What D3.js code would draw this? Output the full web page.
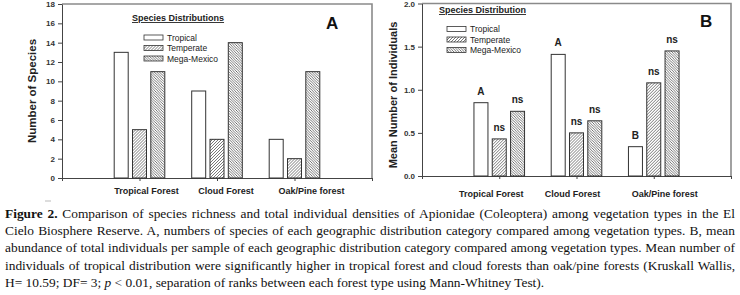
<!DOCTYPE html>
<html>
<head>
<meta charset="utf-8">
<script src="https://cdn.jsdelivr.net/npm/d3@7"></script>
<style>
body{margin:0;background:#fff;width:740px;height:295px;overflow:hidden;position:relative}
#chart svg{position:absolute;left:0;top:0}
#caption{position:absolute;left:5px;top:205px;width:730px;font-family:"Liberation Serif","Times New Roman",serif;font-size:13.4px;line-height:17.2px;color:#111}
#caption div{white-space:nowrap;text-align:justify;text-align-last:justify}
#caption div.last{text-align-last:left}
</style>
</head>
<body>
<div id="chart"></div>
<div id="caption"></div>
<script>
// data
const forests = ["Tropical Forest", "Cloud Forest", "Oak/Pine forest"]
const distributions = ["Tropical", "Temperate", "Mega-Mexico"]

const speciesTropical = [13, 9, 4]
const speciesTemperate = [5, 4, 2]
const speciesMegaMexico = [11, 14, 11]

const meanTropical = [0.85, 1.41, 0.34]
const meanTemperate = [0.43, 0.50, 1.08]
const meanMegaMexico = [0.75, 0.64, 1.45]

const sigTropical = ["A", "A", "B"]
const sigTemperate = ["ns", "ns", "ns"]
const sigMegaMexico = ["ns", "ns", "ns"]

const speciesTicks = [0, 2, 4, 6, 8, 10, 12, 14, 16, 18]
const meanTicks = [0, 0.5, 1.0, 1.5, 2.0]

const captionLines = [
  ["<b>Figure 2.</b> Comparison of species richness and total individual densities of Apionidae (Coleoptera) among vegetation types in the El"],
  ["Cielo Biosphere Reserve. A, numbers of species of each geographic distribution category compared among vegetation types. B, mean"],
  ["abundance of total individuals per sample of each geographic distribution category compared among vegetation types. Mean number of"],
  ["individuals of tropical distribution were significantly higher in tropical forest and cloud forests than oak/pine forests (Kruskall Wallis,"],
  ["H= 10.59; DF= 3; <i>p</i> &lt; 0.01, separation of ranks between each forest type using Mann-Whitney Test)."]
]

const fills = ["#fff", "url(#hatchTemp)", "url(#hatchMega)"]

function buildRows(a, b, c, sa, sb, sc){
  return forests.map((f, i) => ({
    forest: f, idx: i + 1,
    vals: [a[i], b[i], c[i]],
    sig: sa ? [sa[i], sb[i], sc[i]] : null
  }))
}

const panels = [
  {rows: buildRows(speciesTropical, speciesTemperate, speciesMegaMexico),
   left: 62, right: 372, top: 4, bottom: 178, yMax: 18, ticks: speciesTicks, fmt: d3.format("d"),
   yTitle: "Number of Species", yTitleX: 36, yTitleY: 91, yTitleSize: 11.5,
   legendTitle: "Species Distributions", legTitleX: 132, legTitleY: 21, swX: 144, swY: 35,
   letter: "A", letterX: 326, letterY: 29, labelShift: [7, 9, 17], labelY: 194},
  {rows: buildRows(meanTropical, meanTemperate, meanMegaMexico, sigTropical, sigTemperate, sigMegaMexico),
   left: 422, right: 731, top: 3.5, bottom: 176, yMax: 2, ticks: meanTicks, fmt: d3.format(".1f"),
   yTitle: "Mean Number of Individuals", yTitleX: 397, yTitleY: 95, yTitleSize: 11,
   legendTitle: "Species Distribution", legTitleX: 439, legTitleY: 13, swX: 447, swY: 26.5,
   letter: "B", letterX: 700, letterY: 27, labelShift: [-8, -4, 11], labelY: 197}
]

const svg = d3.select("#chart").append("svg").attr("width", 740).attr("height", 295)
  .attr("font-family", "Arial, 'Liberation Sans', sans-serif")

addPatterns(svg)
panels.forEach(p => drawPanel(svg, p))
addCaption()

function addPatterns(svg){
  const defs = svg.append("defs")
  defs.append("pattern").attr("id", "hatchTemp").attr("patternUnits", "userSpaceOnUse")
    .attr("width", 3).attr("height", 3)
    .append("path").attr("d", "M-1,1 l2,-2 M0,3 l3,-3 M2,4 l2,-2")
    .attr("stroke", "#555").attr("stroke-width", 0.8)
  defs.append("pattern").attr("id", "hatchMega").attr("patternUnits", "userSpaceOnUse")
    .attr("width", 2.6).attr("height", 2.6)
    .append("path").attr("d", "M-1,1.6 l2,2 M0,0 l2.6,2.6 M1.6,-1 l2,2")
    .attr("stroke", "#555").attr("stroke-width", 0.8)
}

function drawPanel(svg, p){
  const x = d3.scaleLinear().domain([0, 4]).range([p.left, p.right])
  const y = d3.scaleLinear().domain([0, p.yMax]).range([p.bottom, p.top])
  const inner = d3.scaleBand().domain(d3.range(3)).range([-25.3, 25.3]).paddingInner(0.235)

  // frame
  svg.append("path")
    .attr("d", `M${p.left},${y(p.yMax)} H${x(4)} V${y(0)}`)
    .attr("fill", "none").attr("stroke", "#8a8a8a").attr("stroke-width", 1.6)

  // axes
  const ya = svg.append("g").attr("transform", `translate(${p.left},0)`)
    .call(d3.axisLeft(y).tickValues(p.ticks).tickFormat(p.fmt).tickSize(4).tickSizeOuter(0).tickPadding(3))
  ya.selectAll("text").attr("font-size", 8).attr("font-weight", "bold").attr("fill", "#333")
  ya.selectAll("line,path").attr("stroke", "#444")

  const xa = svg.append("g").attr("transform", `translate(0,${p.bottom})`)
    .call(d3.axisBottom(x).tickValues([0, 1, 2, 3, 4]).tickFormat("").tickSize(3).tickSizeOuter(0))
  xa.selectAll("line,path").attr("stroke", "#444")

  svg.append("g").selectAll("text").data(p.rows).join("text")
    .attr("x", (d, i) => x(d.idx) + p.labelShift[i]).attr("y", p.labelY)
    .attr("text-anchor", "middle").attr("font-size", 9).attr("font-weight", "bold").attr("fill", "#222")
    .text(d => d.forest)

  svg.append("text")
    .attr("transform", `translate(${p.yTitleX},${p.yTitleY}) rotate(-90)`)
    .attr("text-anchor", "middle").attr("font-size", p.yTitleSize).attr("font-weight", "bold").attr("fill", "#222")
    .text(p.yTitle)

  // bars
  const groups = svg.append("g").selectAll("g").data(p.rows).join("g")
    .attr("transform", d => `translate(${x(d.idx)},0)`)
  groups.selectAll("rect").data(d => d.vals).join("rect")
    .attr("x", (v, j) => inner(j)).attr("width", inner.bandwidth())
    .attr("y", v => y(v)).attr("height", v => y(0) - y(v))
    .attr("fill", (v, j) => fills[j]).attr("stroke", "#333").attr("stroke-width", 1)

  groups.filter(d => d.sig).selectAll("text").data(d => d.sig.map((s, j) => ({s, v: d.vals[j], j})))
    .join("text")
    .attr("x", d => inner(d.j) + inner.bandwidth() / 2).attr("y", d => y(d.v) - 8)
    .attr("text-anchor", "middle").attr("font-size", 10).attr("font-weight", "bold").attr("fill", "#222")
    .text(d => d.s)

  // legend
  svg.append("text").attr("x", p.legTitleX).attr("y", p.legTitleY)
    .attr("font-size", 9).attr("font-weight", "bold").attr("fill", "#222")
    .attr("text-decoration", "underline").text(p.legendTitle)
  const leg = svg.append("g").selectAll("g").data(distributions).join("g")
    .attr("transform", (d, i) => `translate(${p.swX},${p.swY + i * 10.5})`)
  leg.append("rect").attr("width", 19).attr("height", 5)
    .attr("fill", (d, i) => fills[i]).attr("stroke", "#333").attr("stroke-width", 0.8)
  leg.append("text").attr("x", 23).attr("y", 5.5).attr("font-size", 8.5).attr("fill", "#222").text(d => d)

  svg.append("text").attr("x", p.letterX).attr("y", p.letterY)
    .attr("font-size", 17).attr("font-weight", "bold").attr("fill", "#111").text(p.letter)
}

function addCaption(){
  svg.append("line").attr("x1", 45).attr("x2", 51).attr("y1", 201).attr("y2", 201)
    .attr("stroke", "#bbb").attr("stroke-width", 1)
  d3.select("#caption").selectAll("div").data(captionLines).join("div")
    .classed("last", (d, i) => i === captionLines.length - 1)
    .html(d => d[0])
}
</script>
</body>
</html>
